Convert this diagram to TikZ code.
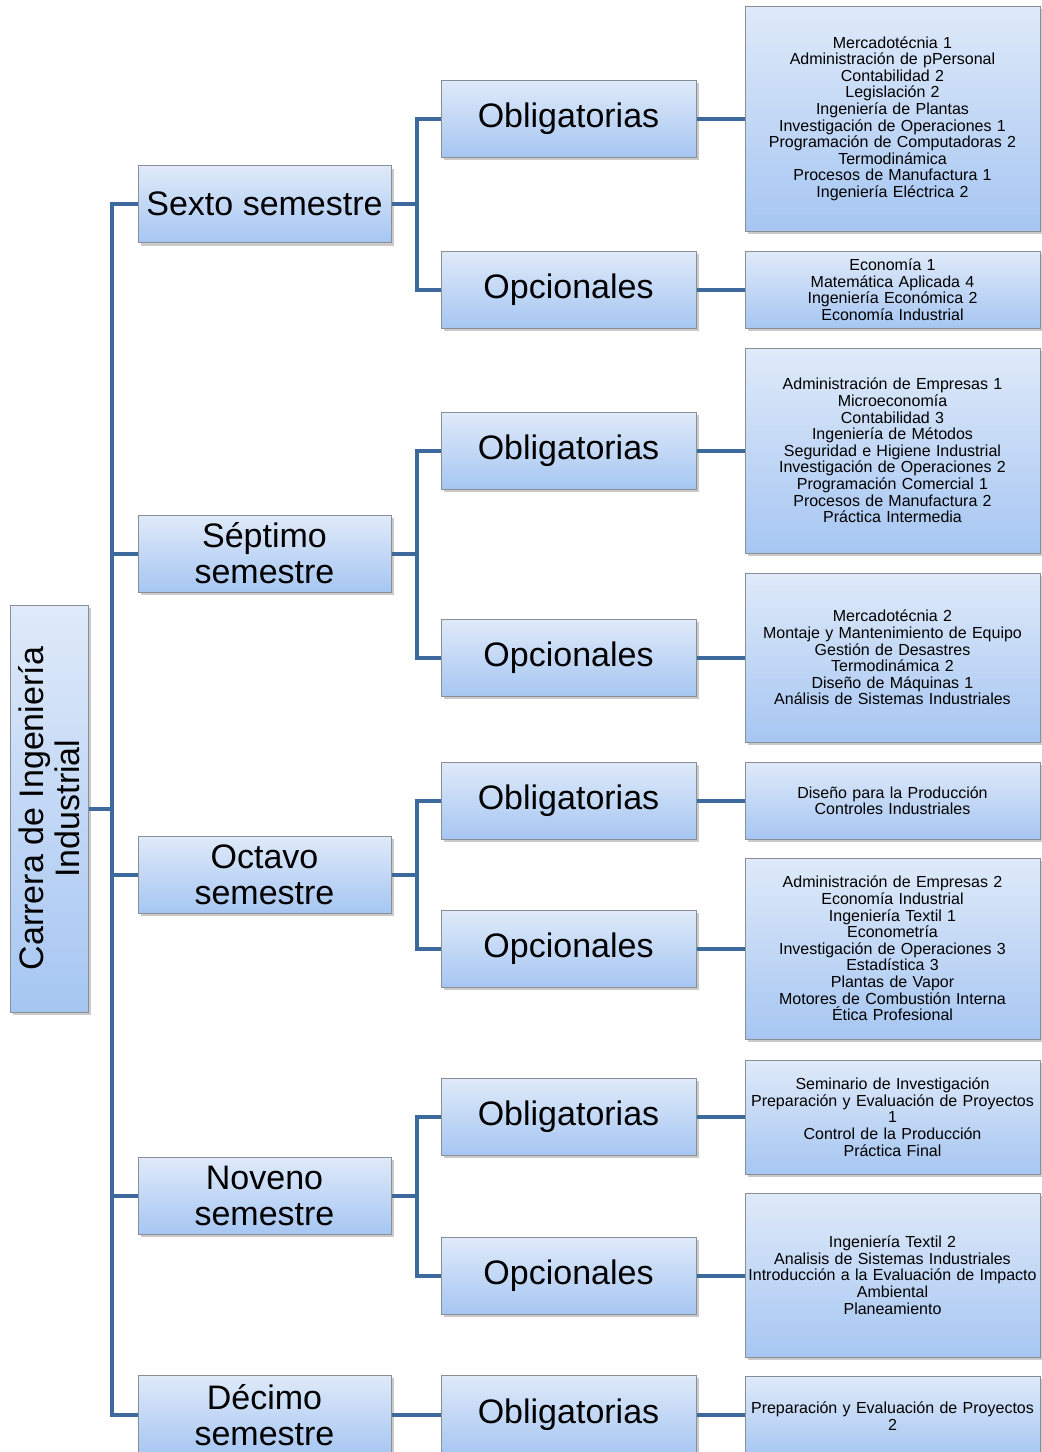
\documentclass[tikz,border=0pt]{standalone}
\usepackage{fontspec}
\setmainfont{Liberation Sans}
\usetikzlibrary{shadows}
\definecolor{boxtop}{HTML}{DFEAF9}
\definecolor{boxbot}{HTML}{A6C6F2}
\definecolor{boxrule}{HTML}{8A8F96}
\definecolor{linkblue}{HTML}{3C6A9C}
\tikzset{
  box/.style={draw=boxrule, line width=1pt, top color=boxtop, bottom color=boxbot,
    drop shadow={shadow xshift=2.5pt, shadow yshift=-3pt, opacity=0.35, fill=black!60},
    inner sep=0pt, align=center},
  bigtext/.style={font=\fontsize{34}{36}\selectfont},
  semester/.style={box, bigtext, minimum width=253pt, minimum height=77pt},
  category/.style={box, bigtext, minimum width=255pt, minimum height=77pt},
  leaf/.style={box, font=\fontsize{16}{16.6}\selectfont, minimum width=295pt, text width=293pt},
  conn/.style={draw=linkblue, line width=4pt}
}
\begin{document}
\begin{tikzpicture}[x=1pt, y=-1pt]
\useasboundingbox (0,0) rectangle (1042,1452);

% root box with its vertical caption
\node[box, minimum width=78pt, minimum height=407pt] (root) at (49,808.5) {};
\node[rotate=90, bigtext, align=center] (roottext) at (root.center) {Carrera de Ingeniería\\Industrial};

% semesters
\node[semester] (s6)  at (264.5,204)  {Sexto semestre};
\node[semester] (s7)  at (264.5,553.5)  {Séptimo\\semestre};
\node[semester] (s8)  at (264.5,874.5)  {Octavo\\semestre};
\node[semester] (s9)  at (264.5,1195.5) {Noveno\\semestre};
\node[semester, minimum height=80pt] (s10) at (264.5,1415) {Décimo\\semestre};

% categories
\node[category] (o6) at (568.5,118.5) {Obligatorias};
\node[category] (p6) at (568.5,289.5) {Opcionales};
\node[category] (o7) at (568.5,450.5) {Obligatorias};
\node[category] (p7) at (568.5,657.5) {Opcionales};
\node[category] (o8) at (568.5,800.5) {Obligatorias};
\node[category] (p8) at (568.5,948.5) {Opcionales};
\node[category] (o9) at (568.5,1116.5) {Obligatorias};
\node[category] (p9) at (568.5,1275.5) {Opcionales};
\node[category, minimum height=80pt] (o10) at (568.5,1415) {Obligatorias};

% subject lists
\node[leaf, minimum height=225pt] (l1) at (892.5,118.5) {Mercadotécnia 1\\Administración de pPersonal\\Contabilidad 2\\Legislación 2\\Ingeniería de Plantas\\Investigación de Operaciones 1\\Programación de Computadoras 2\\Termodinámica\\Procesos de Manufactura 1\\Ingeniería Eléctrica 2};
\node[leaf, minimum height=77pt] (l2) at (892.5,289.5) {Economía 1\\Matemática Aplicada 4\\Ingeniería Económica 2\\Economía Industrial};
\node[leaf, minimum height=205pt] (l3) at (892.5,450.5) {Administración de Empresas 1\\Microeconomía\\Contabilidad 3\\Ingeniería de Métodos\\Seguridad e Higiene Industrial\\Investigación de Operaciones 2\\Programación Comercial 1\\Procesos de Manufactura 2\\Práctica Intermedia};
\node[leaf, minimum height=169pt] (l4) at (892.5,657.5) {Mercadotécnia 2\\Montaje y Mantenimiento de Equipo\\Gestión de Desastres\\Termodinámica 2\\Diseño de Máquinas 1\\Análisis de Sistemas Industriales};
\node[leaf, minimum height=77pt] (l5) at (892.5,800.5) {Diseño para la Producción\\Controles Industriales};
\node[leaf, minimum height=181pt] (l6) at (892.5,948.5) {Administración de Empresas 2\\Economía Industrial\\Ingeniería Textil 1\\Econometría\\Investigación de Operaciones 3\\Estadística 3\\Plantas de Vapor\\Motores de Combustión Interna\\Ética Profesional};
\node[leaf, minimum height=114pt] (l7) at (892.5,1117) {Seminario de Investigación\\Preparación y Evaluación de Proyectos\\1\\Control de la Producción\\Práctica Final};
\node[leaf, minimum height=164pt] (l8) at (892.5,1275) {Ingeniería Textil 2\\Analisis de Sistemas Industriales\\Introducción a la Evaluación de Impacto\\Ambiental\\Planeamiento};
\node[leaf, minimum height=80pt] (l9) at (892.5,1416) {Preparación y Evaluación de Proyectos\\2};

% trunk from the root to every semester
\coordinate (tr) at (112,0);
\draw[conn] (root.east) -- (tr |- root.east);
\draw[conn] (s6.west) -- (tr |- s6.west) -- (tr |- s10.west) -- (s10.west);
\draw[conn] (tr |- s7.west) -- (s7.west);
\draw[conn] (tr |- s8.west) -- (s8.west);
\draw[conn] (tr |- s9.west) -- (s9.west);

% semester to category brackets
\coordinate (br) at (417,0);
\foreach \s/\o/\p in {s6/o6/p6, s7/o7/p7, s8/o8/p8, s9/o9/p9}{
  \draw[conn] (\s.east) -- (br |- \s.east);
  \draw[conn] (\o.west) -- (br |- \o.west) -- (br |- \p.west) -- (\p.west);
}
\draw[conn] (s10.east) -- (o10.west);

% category to subject lists
\foreach \c/\l in {o6/l1, p6/l2, o7/l3, p7/l4, o8/l5, p8/l6, o9/l7, p9/l8, o10/l9}{
  \draw[conn] (\c.east) -- (\l.west |- \c.east);
}
\end{tikzpicture}
\end{document}
